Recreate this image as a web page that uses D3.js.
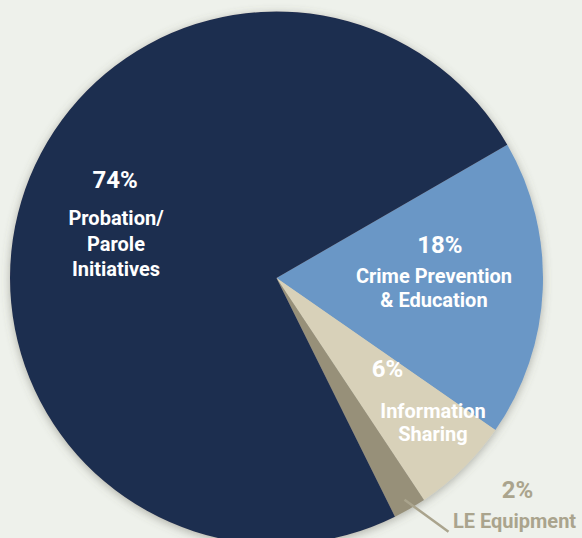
<!DOCTYPE html>
<html>
<head>
<meta charset="utf-8">
<script src="https://cdn.jsdelivr.net/npm/d3@7"></script>
<style>
  html, body { margin: 0; padding: 0; background: #eef1eb; }
  svg { display: block; }
  text { font-family: Roboto, "Open Sans", sans-serif; font-weight: 700; }
</style>
</head>
<body>
<script>
// slices, clockwise starting at 2 o'clock
var categories = ['Crime Prevention & Education', 'Information Sharing', 'LE Equipment', 'Probation/Parole Initiatives'];
var values = [18, 6, 2, 74];
var labelLines = [
    ['Crime Prevention', '& Education'],
    ['Information', 'Sharing'],
    ['LE Equipment'],
    ['Probation/', 'Parole', 'Initiatives']
];
var colors = ['#6a97c6', '#d8d1b9', '#979079', '#1f2d4f'];

var width = 582, height = 538,
    cx = 276.5, cy = 278, radius = 266.5;

var svg = d3.select('body').append('svg')
    .attr('width', width)
    .attr('height', height);

svg.append('rect')
    .attr('width', width)
    .attr('height', height)
    .attr('fill', '#eef1eb');

var defs = svg.append('defs');
defs.append('filter')
    .attr('id', 'shadow')
    .attr('x', '-20%').attr('y', '-20%')
    .attr('width', '140%').attr('height', '140%')
    .append('feDropShadow')
    .attr('dx', 0).attr('dy', 2)
    .attr('stdDeviation', 5)
    .attr('flood-color', '#5d5f55')
    .attr('flood-opacity', 0.45);

var pie = d3.pie()
    .sort(null)
    .startAngle(Math.PI / 3)
    .endAngle(Math.PI / 3 + 2 * Math.PI);

var arcs = pie(values);

var arc = d3.arc().innerRadius(0).outerRadius(radius);

var g = svg.append('g')
    .attr('transform', 'translate(' + cx + ',' + cy + ')');

g.append('g')
    .attr('filter', 'url(#shadow)')
    .selectAll('path')
    .data(arcs)
    .enter()
        .append('path')
        .attr('d', arc)
        .attr('fill', (d, i) => colors[i]);

// label anchors: centroid at a radius per slice, then line offsets
var labelR = [159.6, 223.7, 256, 168.7];
var pctOffset = [[4, -32], [-45.5, -61], [113, -2], [0, -41]];
var lineOffset = [[-2, -2, 22], [0, -20, 3], [110, 28], [1, -4, 22, 47]];
var white = '#ffffff', tan = '#aaa48d';

function anchor(d, i) {
    var a = (d.startAngle + d.endAngle) / 2;
    return [labelR[i] * Math.sin(a), -labelR[i] * Math.cos(a)];
}

arcs.forEach(function(d, i) {
    var p = anchor(d, i);
    var col = i === 2 ? tan : white;
    g.append('text')
        .attr('x', p[0] + pctOffset[i][0])
        .attr('y', p[1] + pctOffset[i][1])
        .attr('text-anchor', 'middle')
        .attr('font-size', 24)
        .attr('fill', col)
        .text(values[i] + '%');
    labelLines[i].forEach(function(t, j) {
        g.append('text')
            .attr('x', p[0] + lineOffset[i][0])
            .attr('y', p[1] + lineOffset[i][j + 1])
            .attr('text-anchor', 'middle')
            .attr('font-size', 20)
            .attr('fill', col)
            .text(t);
    });
    if (i === 2) {
        // leader line from the thin slice to its label
        g.append('line')
            .attr('x1', p[0]).attr('y1', p[1])
            .attr('x2', p[0] + 44).attr('y2', p[1] + 32)
            .attr('stroke', tan)
            .attr('stroke-width', 2.5);
    }
});
</script>
</body>
</html>
